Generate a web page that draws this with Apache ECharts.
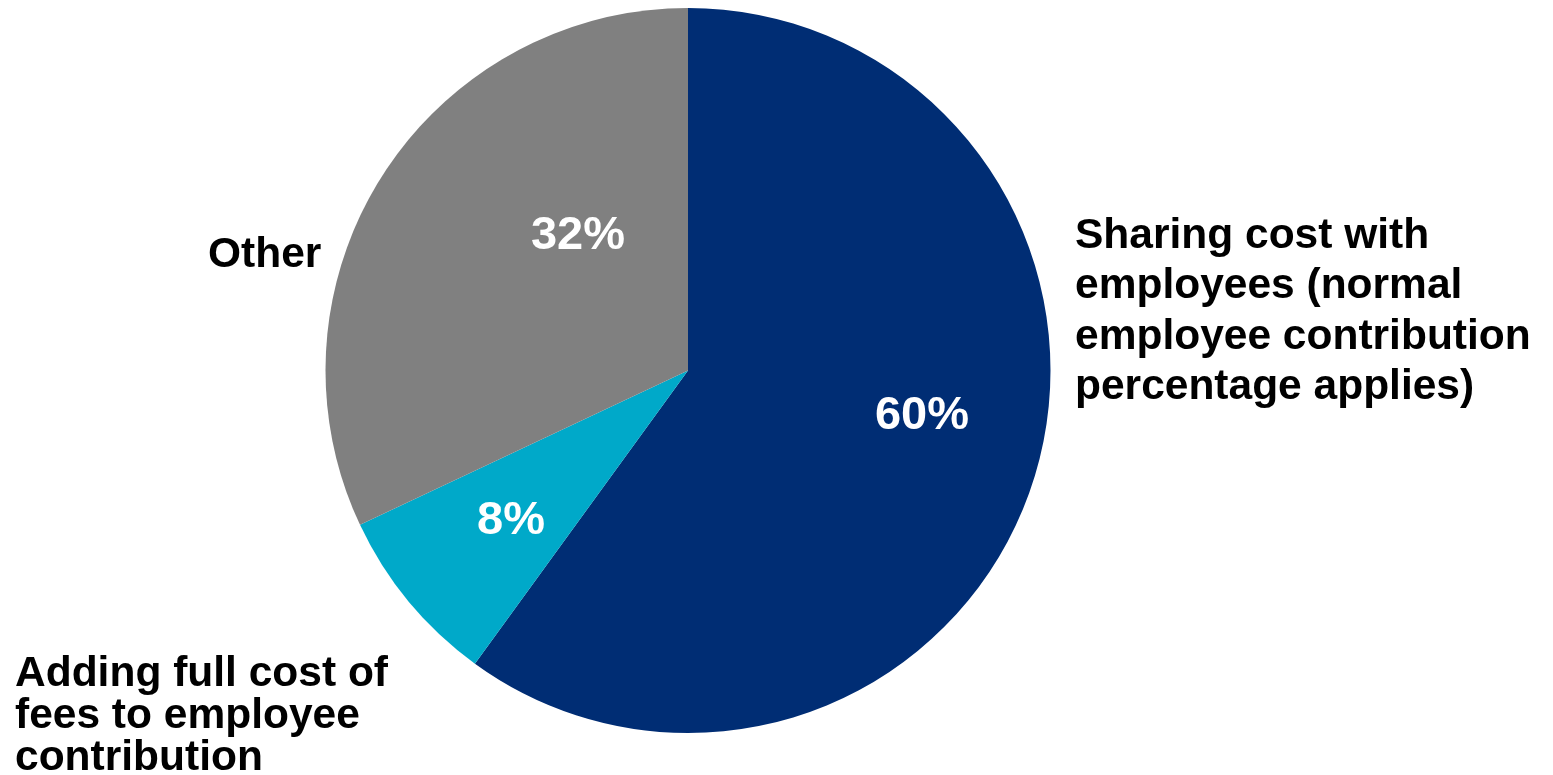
<!DOCTYPE html>
<html>
<head>
<meta charset="utf-8">
<title>Cost sharing</title>
<script src="https://cdn.jsdelivr.net/npm/echarts@6/dist/echarts.min.js"></script>
<style>
  html, body { margin: 0; padding: 0; background: #ffffff; }
  #chart { width: 1553px; height: 775px; }
</style>
</head>
<body>
<div id="chart"></div>
<script>
// Slice names (with the line breaks they are drawn with) and shares in percent
const categories = [
  'Sharing cost with\nemployees (normal\nemployee contribution\npercentage applies)',
  'Adding full cost of\nfees to employee\ncontribution',
  'Other'
];
const shares = [60, 8, 32];
const sliceColors = ['#002D74', '#00A9C9', '#808080'];

// Where each slice's value label and name label sit on the page
const valueLabelSpots = [[922, 416], [511, 521], [578, 236]];
const nameLabelSpots = [[1075, 312, 50.5], [15, 716, 42], [208, 255, 42]];

const FONT = '"Liberation Sans", Arial, Helvetica, sans-serif';

const chart = echarts.init(document.getElementById('chart'), null, { renderer: 'canvas' });

const pieBase = {
  type: 'pie',
  center: [688, 370.5],
  radius: 362.5,
  startAngle: 90,
  clockwise: true,
  avoidLabelOverlap: false,
  animation: false,
  emphasis: { disabled: true },
  labelLine: { show: false }
};

chart.setOption({
  backgroundColor: '#ffffff',
  series: [
    Object.assign({}, pieBase, {
      name: 'share',
      data: categories.map((c, i) => ({
        name: c,
        value: shares[i],
        itemStyle: { color: sliceColors[i] }
      })),
      label: {
        show: true,
        position: 'inside',
        formatter: p => p.value + '%',
        color: '#ffffff',
        fontFamily: FONT,
        fontWeight: 'bold',
        fontSize: 47
      },
      labelLayout: p => ({
        x: valueLabelSpots[p.dataIndex][0],
        y: valueLabelSpots[p.dataIndex][1],
        align: 'center',
        verticalAlign: 'middle'
      })
    }),
    Object.assign({}, pieBase, {
      name: 'names',
      silent: true,
      data: categories.map((c, i) => ({
        name: c,
        value: shares[i],
        itemStyle: { color: 'rgba(0,0,0,0)' },
        label: { lineHeight: nameLabelSpots[i][2] }
      })),
      label: {
        show: true,
        position: 'outside',
        formatter: '{b}',
        color: '#000000',
        fontFamily: FONT,
        fontWeight: 'bold',
        fontSize: 42.5,
        align: 'left'
      },
      labelLayout: p => ({
        x: nameLabelSpots[p.dataIndex][0],
        y: nameLabelSpots[p.dataIndex][1],
        align: 'left',
        verticalAlign: 'middle'
      })
    })
  ]
});
</script>
</body>
</html>
